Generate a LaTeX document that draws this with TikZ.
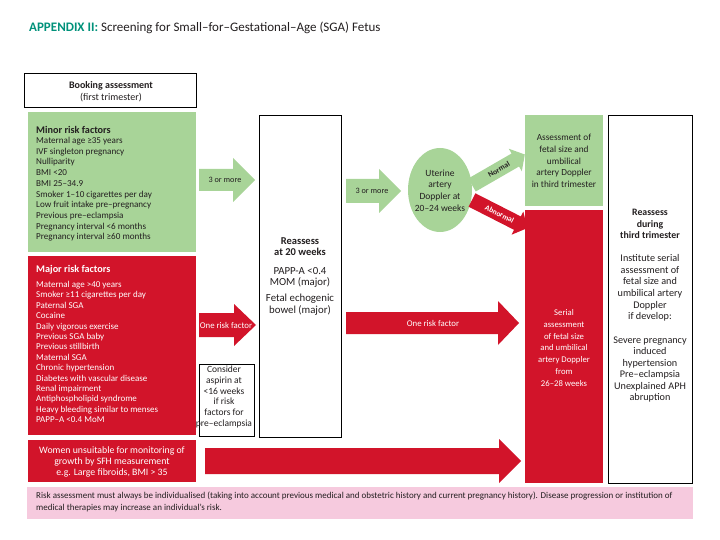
\documentclass[tikz,border=0pt]{standalone}
\usepackage{fontspec}
\setmainfont{Carlito}
\usetikzlibrary{shapes.geometric}
\definecolor{sgagreen}{RGB}{168,212,152}
\definecolor{sgared}{RGB}{210,20,42}
\definecolor{sgapink}{RGB}{246,202,222}
\definecolor{sgateal}{RGB}{0,145,122}
\definecolor{sgatext}{RGB}{35,31,32}
\newcommand\blockarr[7]{%
  \fill[#1] (#2,#4-#5) -- (#3-#7,#4-#5) -- (#3-#7,#4-#6) -- (#3,#4) -- (#3-#7,#4+#6) -- (#3-#7,#4+#5) -- (#2,#4+#5) -- cycle;}
\begin{document}
\begin{tikzpicture}[x=1pt,y=-1pt,
  outbox/.style={draw=black, line width=0.8pt, fill=white},
  greenbox/.style={fill=sgagreen},
  redbox/.style={fill=sgared},
  txt/.style={inner sep=0pt, align=center, text=sgatext, font=\fontsize{10.2}{11.7}\selectfont},
  wtxt/.style={txt, text=white},
  listtxt/.style={inner sep=0pt, align=left, anchor=north west, font=\fontsize{9.1}{10.7}\selectfont},
  head/.style={inner sep=0pt, anchor=west, font=\bfseries\fontsize{10.2}{11}\selectfont},
  arrlab/.style={inner sep=0pt, font=\fontsize{8.2}{9}\selectfont}]
\useasboundingbox (0,0) rectangle (720,540);
% title
\node[inner sep=0pt, anchor=base west, font=\fontsize{13}{15}\selectfont, text=sgatext] (title) at (29,32)
  {\textcolor{sgateal}{\bfseries APPENDIX II:} Screening for Small–for–Gestational–Age (SGA) Fetus};
% left column
\draw[outbox] (24,73) rectangle (196,107);
\node[txt, font=\bfseries\fontsize{10}{11}\selectfont] (book) at (111,86) {Booking assessment};
\node[txt, font=\fontsize{10}{11}\selectfont] (booksub) at (111,97.5) {(first trimester)};
\fill[greenbox] (28,112) rectangle (196,252);
\node[head, text=sgatext] (minorh) at (36,130) {Minor risk factors};
\node[listtxt, text=sgatext] (minor) at (36,137) {Maternal age ≥35 years\\IVF singleton pregnancy\\Nulliparity\\BMI <20\\BMI 25–34.9\\Smoker 1–10 cigarettes per day\\Low fruit intake pre–pregnancy\\Previous pre–eclampsia\\Pregnancy interval <6 months\\Pregnancy interval ≥60 months};
\fill[redbox] (28,256) rectangle (196,435);
\node[head, text=white] (majorh) at (36,270) {Major risk factors};
\node[listtxt, text=white, font=\fontsize{9}{10.4}\selectfont] (major) at (36,281) {Maternal age >40 years\\Smoker ≥11 cigarettes per day\\Paternal SGA\\Cocaine\\Daily vigorous exercise\\Previous SGA baby\\Previous stillbirth\\Maternal SGA\\Chronic hypertension\\Diabetes with vascular disease\\Renal impairment\\Antiphospholipid syndrome\\Heavy bleeding similar to menses\\PAPP–A <0.4 MoM};
\fill[redbox] (28,440) rectangle (196,482);
\node[wtxt, font=\fontsize{9.8}{11.4}\selectfont] (women) at (112,462) {Women unsuitable for monitoring of\\growth by SFH measurement\\e.g. Large fibroids, BMI > 35};
% arrows from left column
\blockarr{sgagreen}{199}{255}{180}{11}{22}{22}
\node[arrlab, text=sgatext] (a1) at (225,180) {3 or more};
\blockarr{sgared}{199}{256}{325}{12}{21}{22}
\node[arrlab, text=white, font=\fontsize{8.8}{9}\selectfont] (a2) at (226,325) {One risk factor};
\draw[outbox] (199,364) rectangle (254,436);
\node[txt, font=\fontsize{9.5}{10.8}\selectfont] (aspirin) at (224,397) {Consider\\aspirin at\\<16 weeks\\if risk\\factors for\\pre–eclampsia};
\blockarr{sgared}{205}{521}{461}{13}{22}{22}
% reassess at 20 weeks
\draw[outbox] (259,115) rectangle (341,437);
\node[txt, font=\bfseries\fontsize{10.5}{11.5}\selectfont] (re20) at (300,246.5) {Reassess\\at 20 weeks};
\node[txt, font=\fontsize{10.8}{11.5}\selectfont] (papp) at (300,277.5) {PAPP-A <0.4\\MOM (major)};
\node[txt, font=\fontsize{10.8}{12.5}\selectfont] (echo) at (300,304.5) {Fetal echogenic\\bowel (major)};
% middle arrows
\blockarr{sgagreen}{346}{401}{191}{12}{22}{22}
\node[arrlab, text=sgatext] (a3) at (372,191) {3 or more};
\node[ellipse, fill=sgagreen, minimum width=64, minimum height=84, inner sep=0pt] (uad) at (440,190) {};
\node[txt, font=\fontsize{9.5}{11.8}\selectfont] (uadt) at (440,190.5) {Uterine\\artery\\Doppler at\\20–24 weeks};
\blockarr{sgared}{346}{519}{323}{11}{22}{21}
\node[arrlab, text=white, font=\fontsize{8.8}{9}\selectfont] (a4) at (433,323) {One risk factor};
\begin{scope}[shift={(472,185)}, rotate=30]
  \blockarr{sgagreen}{0}{61}{0}{7.5}{13}{11}
  \node[arrlab, rotate=30, font=\bfseries\fontsize{7.6}{8}\selectfont, text=sgatext] (norm) at (31,0) {Normal};
\end{scope}
\begin{scope}[shift={(472,200)}, rotate=-27]
  \blockarr{sgared}{0}{62}{0}{7.5}{13}{11}
  \node[arrlab, rotate=-27, font=\bfseries\fontsize{7.6}{8}\selectfont, text=white] (abn) at (31,0) {Abnormal};
\end{scope}
% right column
\fill[greenbox] (525,115) rectangle (603,206);
\node[txt, font=\fontsize{9.3}{11.6}\selectfont] (assess) at (564,161) {Assessment of\\fetal size and\\umbilical\\artery Doppler\\in third trimester};
\fill[redbox] (525,210) rectangle (603,483);
\node[wtxt, font=\fontsize{8.7}{11.7}\selectfont] (serial) at (564,348) {Serial\\assessment\\of fetal size\\and umbilical\\artery Doppler\\from\\26–28 weeks};
\draw[outbox] (608,115) rectangle (692,483);
\node[txt, font=\bfseries\fontsize{9.8}{11.8}\selectfont] (re3) at (650,224) {Reassess\\during\\third trimester};
\node[txt] (inst) at (650,288) {Institute serial\\assessment of\\fetal size and\\umbilical artery\\Doppler\\if develop:};
\node[txt, font=\fontsize{10.2}{11.4}\selectfont] (sev) at (650,369.5) {Severe pregnancy\\induced\\hypertension\\Pre–eclampsia\\Unexplained APH\\abruption};
% footer
\fill[sgapink] (27,487) rectangle (693,519);
\node[inner sep=0pt, anchor=north west, align=left, text=sgatext, font=\fontsize{9}{11.8}\selectfont] (foot) at (36,492)
  {Risk assessment must always be individualised (taking into account previous medical and obstetric history and current pregnancy history). Disease progression or institution of\\medical therapies may increase an individual’s risk.};
\end{tikzpicture}
\end{document}
